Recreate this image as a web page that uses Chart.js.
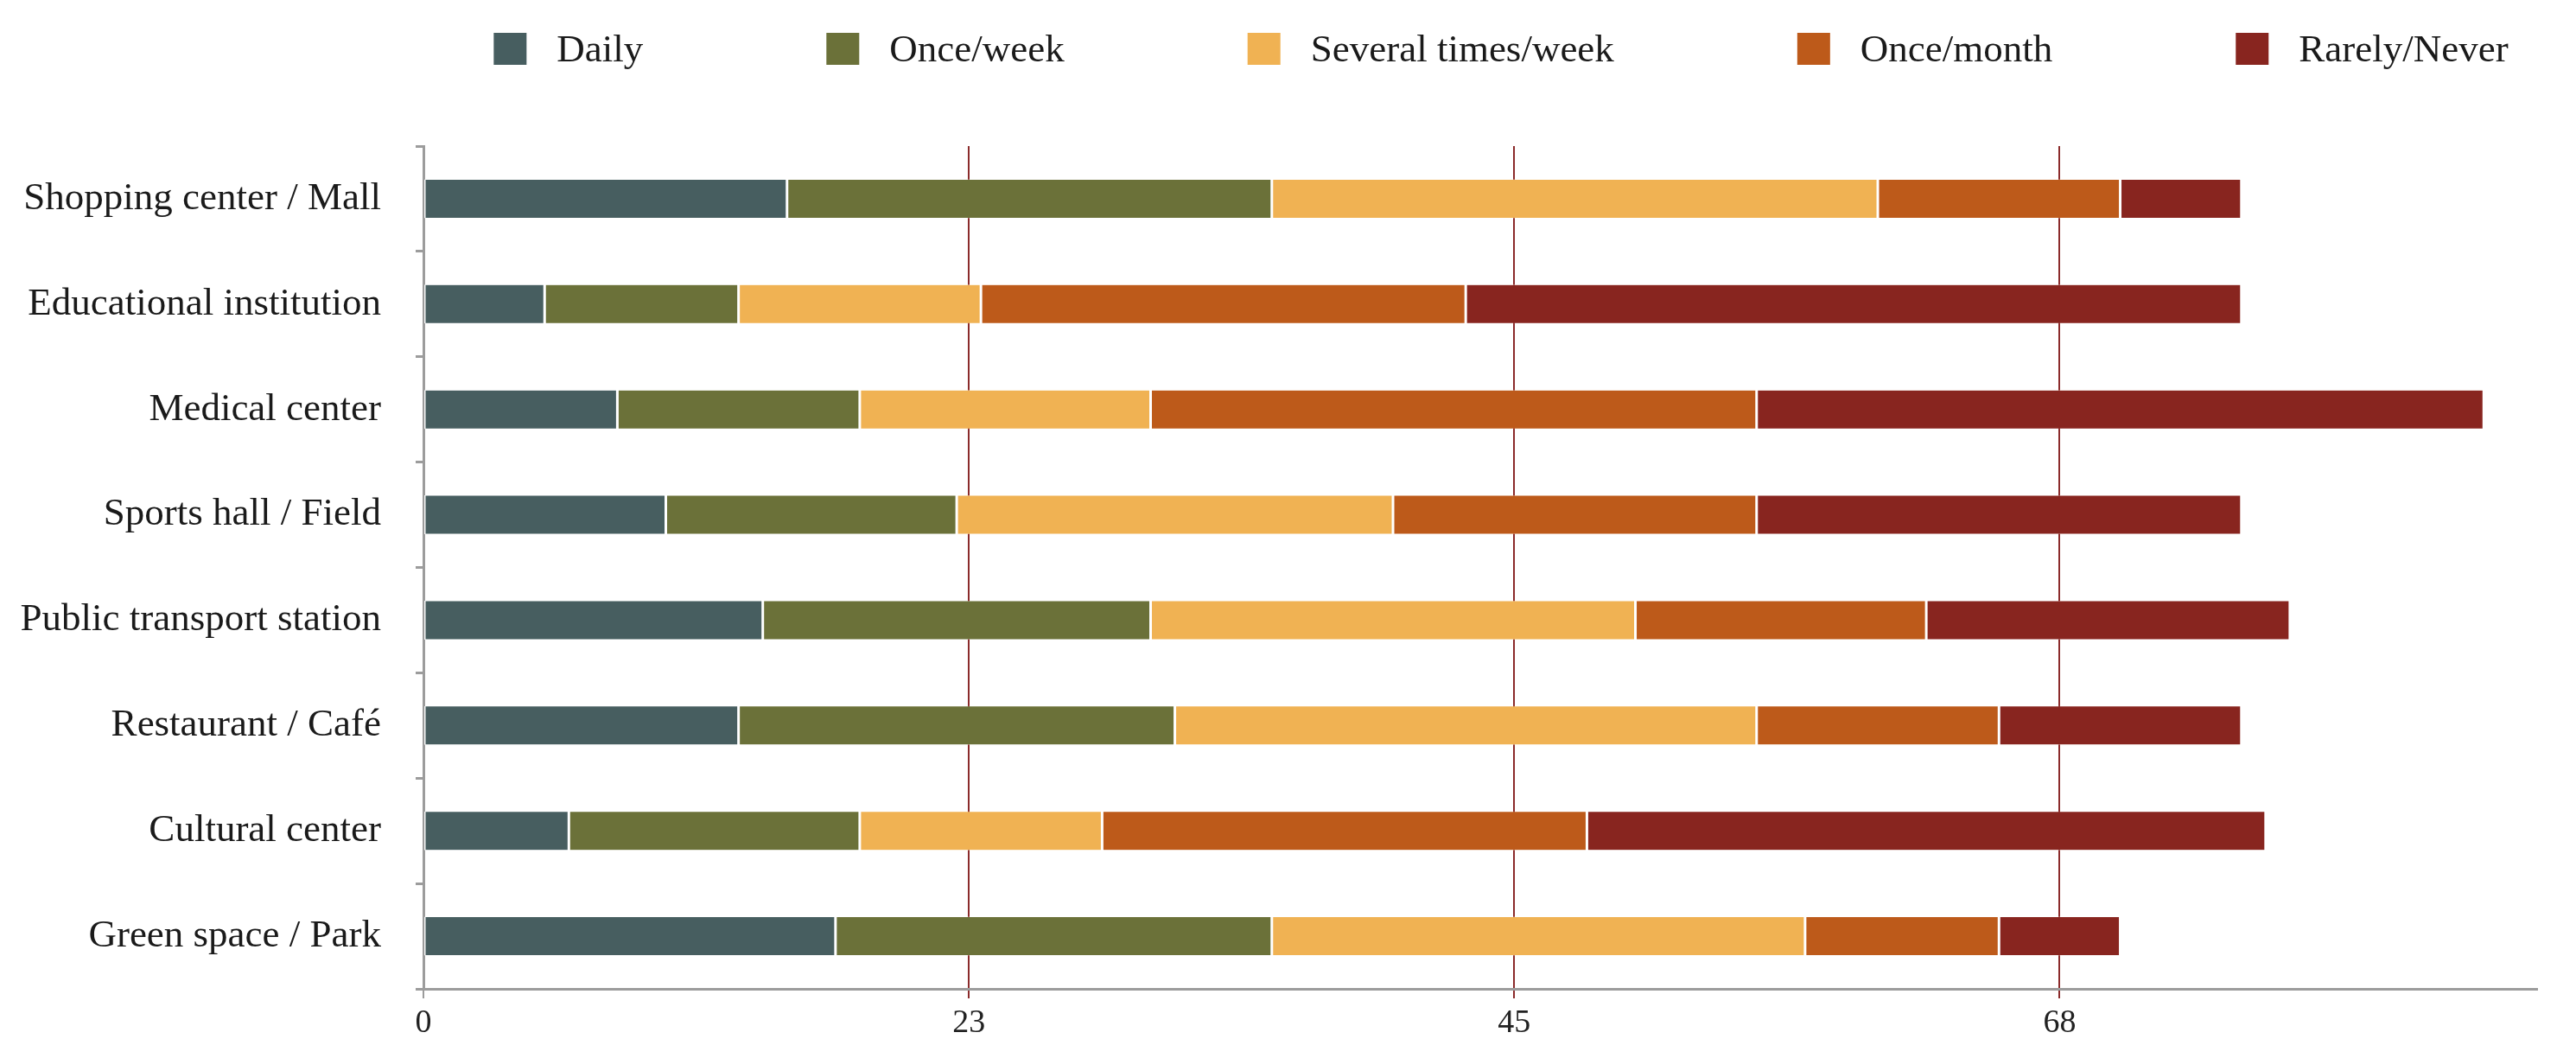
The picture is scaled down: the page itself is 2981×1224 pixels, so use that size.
<!DOCTYPE html>
<html>
<head>
<meta charset="utf-8">
<script src="https://cdn.jsdelivr.net/npm/chart.js@4.4.1/dist/chart.umd.min.js"></script>
<style>
  html, body { margin: 0; padding: 0; background: #fff; }
  #wrap { width: 2981px; height: 1224px; }
</style>
</head>
<body>
<div id="wrap"><canvas id="chartFreq"></canvas></div>
<script>
var places = ['Shopping center / Mall', 'Educational institution', 'Medical center', 'Sports hall / Field',
              'Public transport station', 'Restaurant / Café', 'Cultural center', 'Green space / Park'];
var seriesNames = ['Daily', 'Once/week', 'Several times/week', 'Once/month', 'Rarely/Never'];
var daily       = [15, 5, 8, 10, 14, 13, 6, 17];
var onceWeek    = [20, 8, 10, 12, 16, 18, 12, 18];
var severalWeek = [25, 10, 12, 18, 20, 24, 10, 22];
var onceMonth   = [10, 20, 25, 15, 12, 10, 20, 8];
var rarely      = [5, 32, 30, 20, 15, 10, 28, 5];
var tickValues  = [0, 22.5, 45, 67.5];
var tickLabels  = ['0', '23', '45', '68'];
var axisMax     = 87.2;

var colors = ['#475e60', '#6b7139', '#f0b253', '#bd5a1a', '#88251f'];
var serif = "'Liberation Serif', 'DejaVu Serif', serif";

// legend drawn on top of the canvas, spaced like the original
var topLegend = {
    id: 'topLegend',
    afterDraw: function (chart) {
        var ctx = chart.ctx;
        var sets = chart.data.datasets;
        var boxW = 38, boxH = 37, gap = 35, space = 212;
        ctx.save();
        ctx.font = '45px ' + serif;
        ctx.textBaseline = 'middle';
        ctx.textAlign = 'left';
        var total = 0;
        for (var i = 0; i < sets.length; i++) {
            total += boxW + gap + ctx.measureText(sets[i].label).width;
            if (i < sets.length - 1) total += space;
        }
        var x = 1737 - total / 2;
        for (var j = 0; j < sets.length; j++) {
            ctx.fillStyle = sets[j].backgroundColor;
            ctx.fillRect(x, 38, boxW, boxH);
            ctx.fillStyle = '#1a1a1a';
            ctx.fillText(sets[j].label, x + boxW + gap, 59);
            x += boxW + gap + ctx.measureText(sets[j].label).width + space;
        }
        ctx.restore();
    }
};

var values = [daily, onceWeek, severalWeek, onceMonth, rarely];
var datasets = [];
for (var k = 0; k < seriesNames.length; k++) {
    datasets.push({
        label: seriesNames[k],
        data: values[k],
        backgroundColor: colors[k],
        borderColor: 'rgba(255,255,255,0.9)',
        borderWidth: { left: 1.5, right: 1.5, top: 0.5, bottom: 0.5 },
        borderSkipped: false,
        barPercentage: 0.37,
        categoryPercentage: 1
    });
}

new Chart(document.getElementById('chartFreq'), {
    type: 'bar',
    data: { labels: places, datasets: datasets },
    options: {
        indexAxis: 'y',
        responsive: true,
        maintainAspectRatio: false,
        animation: false,
        devicePixelRatio: 1,
        layout: { padding: { top: 169, right: 45, left: 0, bottom: 0 } },
        plugins: {
            legend: { display: false },
            tooltip: { enabled: false }
        },
        scales: {
            x: {
                stacked: true,
                min: 0,
                max: axisMax,
                afterBuildTicks: function (axis) {
                    axis.ticks = tickValues.map(function (v) { return { value: v }; });
                },
                afterFit: function (axis) { axis.height = 80; },
                border: { display: true, color: '#9c9c9c', width: 3 },
                grid: {
                    color: function (c) { return c.index === 0 ? '#9c9c9c' : '#8b2b2b'; },
                    lineWidth: 2,
                    tickLength: 11
                },
                ticks: {
                    callback: function (v, i) { return tickLabels[i]; },
                    font: { family: serif, size: 38 },
                    color: '#222',
                    padding: 6,
                    maxRotation: 0,
                    autoSkip: false
                }
            },
            y: {
                stacked: true,
                afterFit: function (axis) { axis.width = 490; },
                border: { display: true, color: '#9c9c9c', width: 3 },
                grid: {
                    drawOnChartArea: false,
                    color: '#9c9c9c',
                    lineWidth: 3,
                    tickLength: 9,
                    offset: true
                },
                ticks: {
                    font: { family: serif, size: 45 },
                    color: '#1a1a1a',
                    padding: 40,
                    autoSkip: false
                }
            }
        }
    },
    plugins: [topLegend]
});
</script>
</body>
</html>
